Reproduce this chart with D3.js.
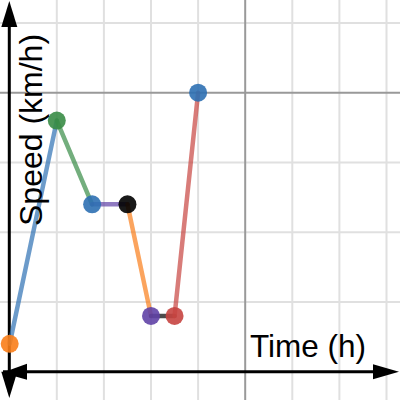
<!DOCTYPE html>
<html><head><meta charset="utf-8">
<script src="https://cdn.jsdelivr.net/npm/d3@7"></script>
<style>html,body{margin:0;padding:0;background:#fff;overflow:hidden}</style>
</head><body>
<svg id="c" width="400" height="400"></svg>
<script>
// Data
const times  = [0, 1, 1.75, 2.5, 3, 3.5, 4];          // hours
const speeds = [2, 18, 12, 12, 4, 4, 20];             // km/h
const pointColors   = ["#fa7e19","#388c46","#2d70b3","#000000","#6042a6","#c74440","#2d70b3"];
const segmentColors = ["#2d70b3","#388c46","#6042a6","#fa7e19","#000000","#c74440"];
const xGridTicks = [0,1,2,3,4,5,6,7,8];
const yGridTicks = [0,5,10,15,20,25];
const xMajor = [0,5];
const yMajor = [0,20];
const xLabel = "Time (h)";
const yLabel = "Speed (km/h)";

const W = 400, H = 400;
const x0 = 9.7, xStep = 47.1;     // pixels for x=0, per hour
const y0 = 371.7, yStep = 13.95;  // pixels for y=0, per km/h
const x = d3.scaleLinear().domain([-x0/xStep, (W-x0)/xStep]).range([0, W]);
const y = d3.scaleLinear().domain([(y0-H)/yStep, y0/yStep]).range([H, 0]);

const svg = d3.select("#c");

// minor grid
const g = svg.append("g");
g.selectAll("line.vx").data(xGridTicks.filter(d=>!xMajor.includes(d))).join("line")
  .attr("x1", d=>x(d)).attr("x2", d=>x(d)).attr("y1",0).attr("y2",H)
  .attr("stroke","#e0e0e0").attr("stroke-width",2);
g.selectAll("line.hy").data(yGridTicks.filter(d=>!yMajor.includes(d))).join("line")
  .attr("y1", d=>y(d)).attr("y2", d=>y(d)).attr("x1",0).attr("x2",W)
  .attr("stroke","#e0e0e0").attr("stroke-width",2);
// major grid
g.selectAll("line.mx").data(xMajor.filter(d=>d!==0)).join("line")
  .attr("x1", d=>x(d)).attr("x2", d=>x(d)).attr("y1",0).attr("y2",H)
  .attr("stroke","#999").attr("stroke-width",2);
g.selectAll("line.my").data(yMajor.filter(d=>d!==0)).join("line")
  .attr("y1", d=>y(d)).attr("y2", d=>y(d)).attr("x1",0).attr("x2",W)
  .attr("stroke","#999").attr("stroke-width",2);

// axes
const ax = svg.append("g");
ax.append("line").attr("x1", 3).attr("x2", 380).attr("y1", y(0)).attr("y2", y(0))
  .attr("stroke","#000").attr("stroke-width",3);
ax.append("line").attr("x1", x(0)-0.4).attr("x2", x(0)-0.4).attr("y1", 392).attr("y2", 20)
  .attr("stroke","#000").attr("stroke-width",3);
const ay = y(0), axx = x(0)-0.4;
ax.append("path").attr("d", `M${axx},1 L${axx-8},27 L${axx+8},27 Z`).attr("fill","#000");
ax.append("path").attr("d", `M399,${ay} L373,${ay-7.5} L373,${ay+7.5} Z`).attr("fill","#000");
ax.append("path").attr("d", `M2,${ay+1} L27,${ay-8} L27,${ay+8} Z`).attr("fill","#000");
ax.append("path").attr("d", `M${axx-8},${ay} L${axx+8},${ay} L${axx},398 Z`).attr("fill","#000");

// segments
const segs = segmentColors.map((c,i)=>({x1:times[i],y1:speeds[i],x2:times[i+1],y2:speeds[i+1],c}));
svg.append("g").selectAll("line").data(segs).join("line")
  .attr("x1",d=>x(d.x1)).attr("y1",d=>y(d.y1)).attr("x2",d=>x(d.x2)).attr("y2",d=>y(d.y2))
  .attr("stroke",d=>d.c).attr("stroke-opacity",0.7).attr("stroke-width",4.5).attr("stroke-linecap","round");

// points
svg.append("g").selectAll("circle").data(times.map((t,i)=>({t,s:speeds[i],c:pointColors[i]}))).join("circle")
  .attr("cx",d=>x(d.t)).attr("cy",d=>y(d.s)).attr("r",9)
  .attr("fill",d=>d.c).attr("fill-opacity",0.9);

// labels
svg.append("text").attr("x",250).attr("y",357).text(xLabel)
  .attr("font-family","Liberation Sans, Arial, sans-serif").attr("font-size",31.5).attr("fill","#000");
svg.append("text").attr("transform","translate(42,226) rotate(-90)").text(yLabel)
  .attr("font-family","Liberation Sans, Arial, sans-serif").attr("font-size",32).attr("fill","#000");
</script>
</body></html>
